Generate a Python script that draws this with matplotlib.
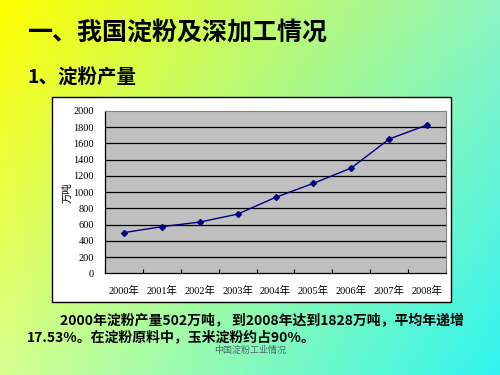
import matplotlib
matplotlib.use("Agg")
import matplotlib.pyplot as plt
import numpy as np
from matplotlib.patches import Rectangle

# data
years = ["2000年", "2001年", "2002年", "2003年", "2004年",
         "2005年", "2006年", "2007年", "2008年"]
output = [502, 575, 632, 730, 936, 1109, 1298, 1655, 1828]
y_ticks = [0, 200, 400, 600, 800, 1000, 1200, 1400, 1600, 1800, 2000]

title = "一、我国淀粉及深加工情况"
subtitle = "1、淀粉产量"
body1 = "2000年淀粉产量502万吨， 到2008年达到1828万吨，平均年递增"
body2 = "17.53%。在淀粉原料中，玉米淀粉约占90%。"
footer = "中国淀粉工业情况"

SANS = ["Noto Sans CJK SC", "DejaVu Sans"]
SERIF = ["Liberation Serif", "Noto Sans CJK SC"]

fig = plt.figure(figsize=(5, 3.75), dpi=100)

# slide background: yellow top-left fading to cyan bottom-right
bg = fig.add_axes([0, 0, 1, 1], zorder=-1)
tl = np.array([1.00, 1.00, 0.00])
tr = np.array([0.56, 0.96, 0.76])
bl = np.array([0.84, 1.00, 0.56])
br = np.array([0.19, 0.96, 0.94])
u = np.linspace(0, 1, 200)[None, :, None]
v = np.linspace(0, 1, 150)[:, None, None]
grad = (tl * (1 - u) * (1 - v) + tr * u * (1 - v)
        + bl * (1 - u) * v + br * u * v)
bg.imshow(grad, aspect="auto", extent=[0, 1, 0, 1], origin="upper")
bg.set_xlim(0, 1)
bg.set_ylim(0, 1)
bg.axis("off")

# white chart frame
bg.add_patch(Rectangle((0.104, 0.195), 0.798, 0.547, facecolor="white",
                       edgecolor="black", linewidth=1.0, zorder=2))

ax = fig.add_axes([0.21, 0.271, 0.682, 0.433])
ax.set_facecolor("#C0C0C0")
x = np.arange(len(years))
ax.plot(x, output, color="#000080", linewidth=1.0, marker="D",
        markersize=3, markerfacecolor="#000080", zorder=3)

ax.set_xlim(-0.5, len(years) - 0.5)
ax.set_ylim(0, 2000)
ax.set_yticks(y_ticks)
ax.set_yticklabels([str(t) for t in y_ticks], family=SERIF, fontsize=7.5)
for t in y_ticks[1:-1]:
    ax.axhline(t, color="black", linewidth=0.9, zorder=1)

ax.set_xticks(x)
ax.set_xticklabels(years, family=SERIF, fontsize=7.5)
ax.set_xticks(np.arange(-0.5, len(years)), minor=True)
ax.tick_params(axis="x", which="major", length=0, pad=9)
ax.tick_params(axis="x", which="minor", direction="in", length=3, width=0.8)
ax.tick_params(axis="y", length=0, pad=8)
ax.set_ylabel("万吨", family=SERIF, fontsize=7.5)
ax.yaxis.set_label_coords(-0.094, 0.5)

for side in ["top", "right"]:
    ax.spines[side].set_color("#808080")
    ax.spines[side].set_linewidth(0.8)
for side in ["left", "bottom"]:
    ax.spines[side].set_color("black")
    ax.spines[side].set_linewidth(0.9)

fig.text(0.054, 0.912, title, family=SANS, fontsize=18, fontweight="heavy",
         va="center", ha="left")
fig.text(0.054, 0.795, subtitle, family=SANS, fontsize=14, fontweight="heavy",
         va="center", ha="left")
fig.text(0.12, 0.144, body1, family=SANS, fontsize=10, fontweight="heavy",
         va="center", ha="left")
fig.text(0.054, 0.101, body2, family=SANS, fontsize=10, fontweight="heavy",
         va="center", ha="left")
fig.text(0.5, 0.067, footer, family=SANS, fontsize=6.5, color="#4A6A6A",
         va="center", ha="center")

fig.savefig("out.png", dpi=100)
